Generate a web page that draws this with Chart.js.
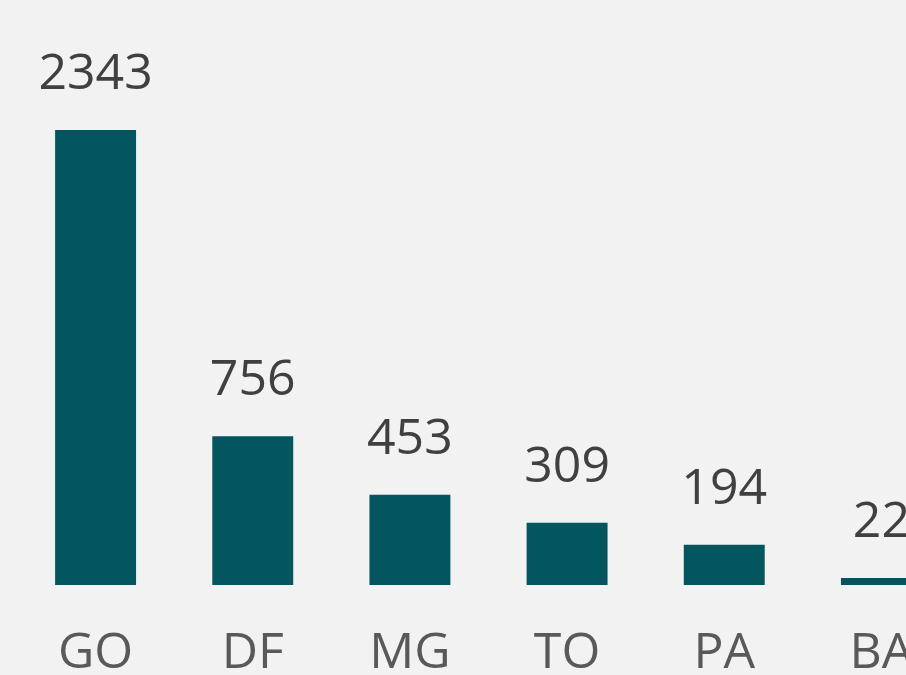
<!DOCTYPE html>
<html>
<head>
<meta charset="utf-8">
<script src="https://cdn.jsdelivr.net/npm/chart.js@4"></script>
<style>
  html, body { margin: 0; padding: 0; background: #f2f2f2; overflow: hidden; }
  #wrap { position: absolute; left: 0; top: 0; width: 980px; height: 735px; }
</style>
</head>
<body>
<div id="wrap"><canvas id="barChart"></canvas></div>
<script>
/* ── data ── */
var CATEGORIES = ['GO', 'DF', 'MG', 'TO', 'PA', 'BA'];
var COUNTS     = [2343, 756, 453, 309, 194, 22];

var BAR_COLOR   = '#03565f';
var LABEL_COLOR = '#404040';
var TICK_COLOR  = '#595959';
var FONT        = '"Open Sans", sans-serif';

/* ── value labels above bars ── */
var valueLabels = {
  id: 'valueLabels',
  afterDatasetsDraw: function(chart) {
    var c = chart.ctx;
    var meta = chart.getDatasetMeta(0);
    c.save();
    c.fillStyle = LABEL_COLOR;
    c.font = '50px ' + FONT;
    c.textAlign = 'center';
    c.textBaseline = 'alphabetic';
    meta.data.forEach(function(bar, i) {
      c.fillText(String(COUNTS[i]), bar.x, bar.y - 41);
    });
    c.restore();
  }
};

new Chart(document.getElementById('barChart'), {
  type: 'bar',
  data: {
    labels: CATEGORIES,
    datasets: [{
      data: COUNTS,
      backgroundColor: BAR_COLOR,
      borderWidth: 0,
      base: -14,
      categoryPercentage: 1,
      barPercentage: 0.515
    }]
  },
  plugins: [valueLabels],
  options: {
    responsive: true, maintainAspectRatio: false,
    animation: false,
    layout: { padding: { left: 17, right: 20, top: 130, bottom: 20 } },
    plugins: { legend: { display: false }, tooltip: { enabled: false } },
    scales: {
      x: {
        grid: { display: false }, border: { display: false },
        ticks: { color: TICK_COLOR, font: { family: FONT, size: 50 }, padding: 31, maxRotation: 0, autoSkip: false }
      },
      y: { display: false, min: -14, max: 2343 }
    }
  }
});
</script>
</body>
</html>
